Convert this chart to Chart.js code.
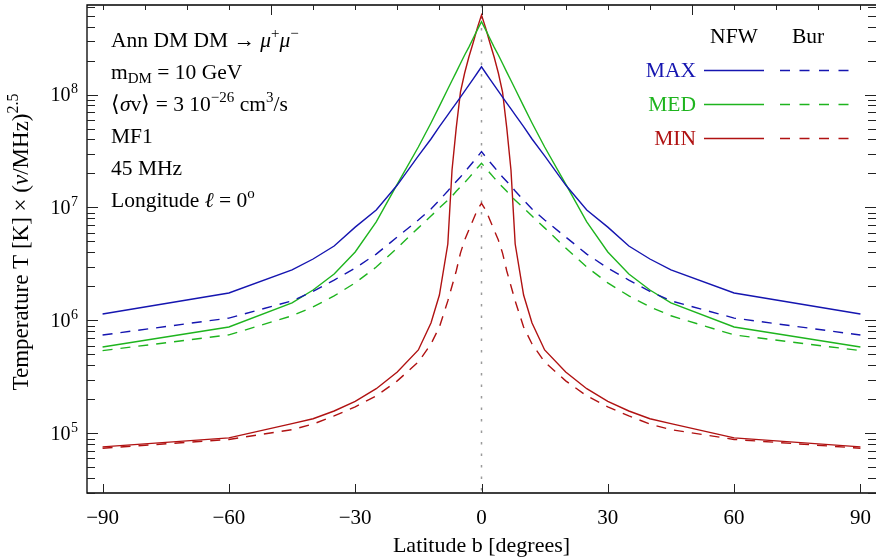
<!DOCTYPE html>
<html>
<head>
<meta charset="utf-8">
<script src="https://cdn.jsdelivr.net/npm/chart.js@4.4.1/dist/chart.umd.min.js"></script>
<style>
  html, body { margin: 0; padding: 0; background: #fff; }
  #wrap { width: 876px; height: 557px; }
</style>
</head>
<body>
<div id="wrap"><canvas id="tempChart" width="876" height="557"></canvas></div>
<script>
// latitude b in degrees
const latitudes = [-90,-60,-45,-40,-35,-30,-25,-20,-15,-12,-10,-8,-7,-6,-5,-4,-3,-2,-1,0,1,2,3,4,5,6,7,8,10,12,15,20,25,30,35,40,45,60,90];

// NFW profile (solid)
const nfwMax = [1.14e6,1.75e6,2.8e6,3.5e6,4.56e6,6.7e6,9.5e6,1.58e7,2.86e7,4.04e7,5.2e7,6.6e7,7.45e7,8.4e7,9.5e7,1.07e8,1.21e8,1.37e8,1.55e8,1.76e8,1.55e8,1.37e8,1.21e8,1.07e8,9.5e7,8.4e7,7.45e7,6.6e7,5.2e7,4.04e7,2.86e7,1.58e7,9.5e6,6.7e6,4.56e6,3.5e6,2.8e6,1.75e6,1.14e6];
const nfwMed = [5.82e5,8.76e5,1.43e6,1.86e6,2.58e6,4.04e6,7.45e6,1.61e7,3.43e7,5.6e7,7.9e7,1.12e8,1.33e8,1.58e8,1.88e8,2.24e8,2.63e8,3.13e8,3.73e8,4.41e8,3.73e8,3.13e8,2.63e8,2.24e8,1.88e8,1.58e8,1.33e8,1.12e8,7.9e7,5.6e7,3.43e7,1.61e7,7.45e6,4.04e6,2.58e6,1.86e6,1.43e6,8.76e5,5.82e5];
const nfwMin = [7.6e4,9.14e4,1.22e5,1.35e5,1.58e5,1.92e5,2.49e5,3.5e5,5.48e5,9.5e5,1.68e6,4.75e6,2.15e7,5.06e7,1.05e8,1.55e8,2.15e8,2.86e8,3.87e8,5.06e8,3.87e8,2.86e8,2.15e8,1.55e8,1.05e8,5.06e7,2.15e7,4.75e6,1.68e6,9.5e5,5.48e5,3.5e5,2.49e5,1.92e5,1.58e5,1.35e5,1.22e5,9.14e4,7.6e4];

// Burkert profile (dashed)
const burMax = [7.43e5,1.05e6,1.49e6,1.81e6,2.28e6,2.91e6,3.87e6,5.48e6,7.75e6,9.7e6,1.16e7,1.40e7,1.55e7,1.70e7,1.86e7,2.06e7,2.28e7,2.53e7,2.80e7,3.12e7,2.80e7,2.53e7,2.28e7,2.06e7,1.86e7,1.70e7,1.55e7,1.40e7,1.16e7,9.7e6,7.75e6,5.48e6,3.87e6,2.91e6,2.28e6,1.81e6,1.49e6,1.05e6,7.43e5];
const burMed = [5.41e5,7.45e5,1.10e6,1.32e6,1.65e6,2.15e6,2.97e6,4.39e6,6.6e6,8.4e6,9.9e6,1.16e7,1.26e7,1.39e7,1.52e7,1.66e7,1.83e7,2.02e7,2.24e7,2.46e7,2.24e7,2.02e7,1.83e7,1.66e7,1.52e7,1.39e7,1.26e7,1.16e7,9.9e6,8.4e6,6.6e6,4.39e6,2.97e6,2.15e6,1.65e6,1.32e6,1.10e6,7.45e5,5.41e5];
const burMin = [7.4e4,8.85e4,1.08e5,1.21e5,1.43e5,1.72e5,2.15e5,2.92e5,4.29e5,6.19e5,8.75e5,1.49e6,2.02e6,2.74e6,3.95e6,5.15e6,6.32e6,7.75e6,9.5e6,1.09e7,9.5e6,7.75e6,6.32e6,5.15e6,3.95e6,2.74e6,2.02e6,1.49e6,8.75e5,6.19e5,4.29e5,2.92e5,2.15e5,1.72e5,1.43e5,1.21e5,1.08e5,8.85e4,7.4e4];

const xTickValues = [-90, -60, -30, 0, 30, 60, 90];
const xTopTicks = [-90,-80,-70,-60,-50,-40,-30,-20,-10,0,10,20,30,40,50,60,70,80,90];
const yMajorTicks = [1e5, 1e6, 1e7, 1e8];
const yExponents = ['5', '6', '7', '8'];

const BLUE = '#1515b0';
const GREEN = '#1eb41e';
const RED = '#b01212';
const SERIF = '"Liberation Serif", "Times New Roman", serif';

function pts(vals) {
    return latitudes.map((b, i) => ({ x: b, y: vals[i] }));
}

function line(label, vals, color, dashed) {
    return {
        label: label,
        data: pts(vals),
        borderColor: color,
        borderWidth: 1.4,
        borderDash: dashed ? [10, 8] : [],
        pointRadius: 0,
        tension: 0,
        fill: false
    };
}

// text with italic / super / subscript pieces
function partFont(kind, size) {
    if (kind === 'sup' || kind === 'sub') return Math.round(size * 0.68) + 'px ' + SERIF;
    if (kind === 'i') return 'italic ' + size + 'px ' + SERIF;
    return size + 'px ' + SERIF;
}

function richWidth(ctx, parts, size) {
    let w = 0;
    parts.forEach(p => {
        ctx.font = partFont(p[1], size);
        w += ctx.measureText(p[0]).width;
    });
    return w;
}

function drawRich(ctx, parts, x, y, size, align, color) {
    let w = richWidth(ctx, parts, size);
    let cx = x;
    if (align === 'center') cx = x - w / 2;
    if (align === 'right') cx = x - w;
    ctx.fillStyle = color || '#000';
    ctx.textAlign = 'left';
    ctx.textBaseline = 'alphabetic';
    parts.forEach(p => {
        ctx.font = partFont(p[1], size);
        let dy = 0;
        if (p[1] === 'sup') dy = -size * 0.42;
        if (p[1] === 'sub') dy = size * 0.22;
        ctx.fillText(p[0], cx, y + dy);
        cx += ctx.measureText(p[0]).width;
    });
}

const framePlugin = {
    id: 'frame',
    beforeDatasetsDraw(chart) {
        const ctx = chart.ctx;
        const a = chart.chartArea;
        const x0 = chart.scales.x.getPixelForValue(0);
        ctx.save();
        ctx.strokeStyle = '#9a9a9a';
        ctx.lineWidth = 1.5;
        ctx.setLineDash([2.5, 9]);
        ctx.beginPath();
        ctx.moveTo(x0, a.top);
        ctx.lineTo(x0, a.bottom);
        ctx.stroke();
        ctx.restore();
    },
    afterDraw(chart) {
        const ctx = chart.ctx;
        const a = chart.chartArea;
        const xs = chart.scales.x;
        const ys = chart.scales.y;
        ctx.save();
        // frame: right edge sits on the canvas border
        ctx.strokeStyle = '#000';
        ctx.lineWidth = 1.3;
        ctx.beginPath();
        ctx.moveTo(a.right + 2, a.top);
        ctx.lineTo(a.left, a.top);
        ctx.lineTo(a.left, a.bottom);
        ctx.lineTo(a.right + 2, a.bottom);
        ctx.stroke();

        // x ticks
        ctx.lineWidth = 1;
        ctx.strokeStyle = '#222';
        ctx.beginPath();
        xTickValues.forEach(v => {
            const px = Math.round(xs.getPixelForValue(v)) + 0.5;
            ctx.moveTo(px, a.bottom);
            ctx.lineTo(px, a.bottom - 9);
        });
        xTopTicks.forEach(v => {
            const px = Math.round(xs.getPixelForValue(v)) + 0.5;
            const len = (v === 0 || Math.abs(v) === 50) ? 10 : 5;
            ctx.moveTo(px, a.top);
            ctx.lineTo(px, a.top + len);
        });
        ctx.stroke();

        // log y ticks, both sides
        ctx.beginPath();
        for (let e = 4; e <= 8; e++) {
            for (let m = 1; m <= 9; m++) {
                const v = m * Math.pow(10, e);
                if (v < ys.min || v > ys.max) continue;
                const py = Math.round(ys.getPixelForValue(v)) + 0.5;
                const len = m === 1 ? 11 : 8;
                ctx.moveTo(a.left, py);
                ctx.lineTo(a.left + len, py);
                ctx.moveTo(a.right, py);
                ctx.lineTo(a.right - len, py);
            }
        }
        ctx.stroke();

        // y tick labels 10^n
        yMajorTicks.forEach((v, i) => {
            const py = ys.getPixelForValue(v);
            ctx.font = '14px ' + SERIF;
            const ew = ctx.measureText(yExponents[i]).width;
            ctx.fillStyle = '#000';
            ctx.textAlign = 'left';
            ctx.textBaseline = 'alphabetic';
            ctx.fillText(yExponents[i], 78 - ew, py - 1.5);
            ctx.font = '20px ' + SERIF;
            ctx.textAlign = 'right';
            ctx.fillText('10', 78 - ew - 0.5, py + 6.5);
        });

        // axis titles
        drawRich(ctx, [['Latitude b [degrees]', 'n']], (a.left + a.right) / 2, 552, 22, 'center');
        ctx.save();
        ctx.translate(28, 242);
        ctx.rotate(-Math.PI / 2);
        drawRich(ctx, [['Temperature T [K] \u00d7 (', 'n'], ['\u03bd', 'i'], ['/MHz)', 'n'], ['2.5', 'sup']], 0, 0, 23, 'center');
        ctx.restore();

        // annotation block
        const notes = [
            [['Ann DM DM \u2192 ', 'n'], ['\u03bc', 'i'], ['+', 'sup'], ['\u03bc', 'i'], ['\u2212', 'sup']],
            [['m', 'n'], ['DM', 'sub'], [' = 10 GeV', 'n']],
            [['\u27e8', 'n'], ['\u03c3', 'i'], ['v\u27e9 = 3 10', 'n'], ['\u221226', 'sup'], [' cm', 'n'], ['3', 'sup'], ['/s', 'n']],
            [['MF1', 'n']],
            [['45 MHz', 'n']],
            [['Longitude ', 'n'], ['\u2113', 'i'], [' = 0', 'n'], ['o', 'sup']]
        ];
        notes.forEach((parts, i) => {
            drawRich(ctx, parts, 111, 46.7 + i * 32, 21.5, 'left');
        });

        // legend
        drawRich(ctx, [['NFW', 'n']], 734, 43, 21.5, 'center');
        drawRich(ctx, [['Bur', 'n']], 808, 43, 21.5, 'center');
        const rows = [['MAX', BLUE, 77], ['MED', GREEN, 111], ['MIN', RED, 145]];
        rows.forEach(r => {
            drawRich(ctx, [[r[0], 'n']], 696, r[2], 21.5, 'right', r[1]);
            const ly = r[2] - 6.5;
            ctx.strokeStyle = r[1];
            ctx.lineWidth = 1.4;
            ctx.setLineDash([]);
            ctx.beginPath();
            ctx.moveTo(704, ly);
            ctx.lineTo(764, ly);
            ctx.stroke();
            ctx.setLineDash([10, 9.5]);
            ctx.beginPath();
            ctx.moveTo(780, ly);
            ctx.lineTo(849, ly);
            ctx.stroke();
            ctx.setLineDash([]);
        });
        ctx.restore();
    }
};

const chart = new Chart(document.getElementById('tempChart'), {
    type: 'line',
    data: {
        datasets: [
            line('NFW MAX', nfwMax, BLUE, false),
            line('Bur MAX', burMax, BLUE, true),
            line('NFW MED', nfwMed, GREEN, false),
            line('Bur MED', burMed, GREEN, true),
            line('NFW MIN', nfwMin, RED, false),
            line('Bur MIN', burMin, RED, true)
        ]
    },
    options: {
        responsive: false,
        animation: false,
        devicePixelRatio: 1,
        layout: { padding: { top: 5, right: 0, left: 0, bottom: 0 } },
        plugins: {
            legend: { display: false },
            tooltip: { enabled: false }
        },
        scales: {
            x: {
                type: 'linear',
                min: -93.7,
                max: 93.7,
                afterBuildTicks: s => { s.ticks = xTickValues.map(v => ({ value: v })); },
                afterFit: s => { s.height = 64; },
                grid: { display: false },
                border: { display: false },
                ticks: {
                    padding: 5,
                    maxRotation: 0,
                    autoSkip: false,
                    color: '#000',
                    font: { family: SERIF, size: 21 },
                    callback: v => String(v).replace('-', '\u2212')
                }
            },
            y: {
                type: 'logarithmic',
                min: 2.97e4,
                max: 6.2e8,
                afterFit: s => { s.width = 87; },
                grid: { display: false },
                border: { display: false },
                ticks: { display: false }
            }
        }
    },
    plugins: [framePlugin]
});
</script>
</body>
</html>
